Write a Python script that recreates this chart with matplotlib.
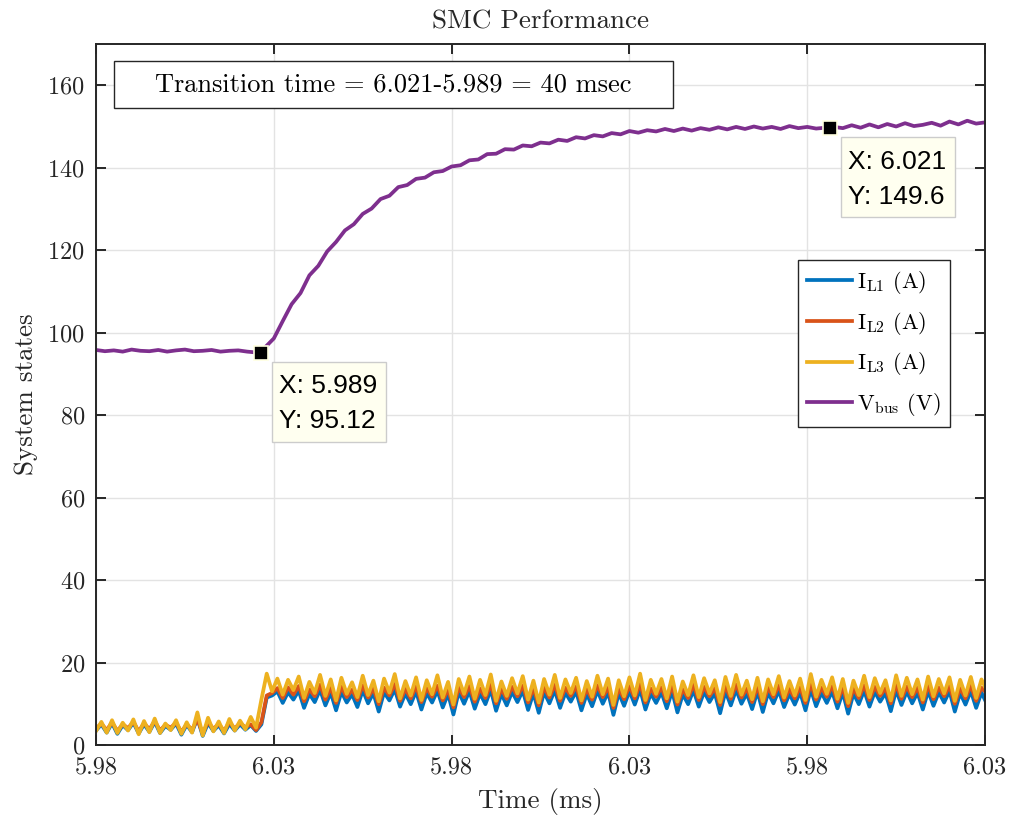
import numpy as np
import matplotlib
matplotlib.use("Agg")
import matplotlib.pyplot as plt
from matplotlib.patches import Rectangle
from matplotlib.transforms import ScaledTranslation

plt.rcParams['font.family'] = ['cmr10']
plt.rcParams['mathtext.fontset'] = 'cm'
plt.rcParams['axes.formatter.use_mathtext'] = True
plt.rcParams['axes.unicode_minus'] = False

# ---- data -------------------------------------------------------------
T0 = 5.9797          # first sample (ms)
DT_I = 0.0003        # current sampling step (ms)
DT_V = 0.0005        # bus-voltage sampling step (ms)

x_ticks_labels = ['5.98', '6.03', '5.98', '6.03', '5.98', '6.03']
y_ticks = [0, 20, 40, 60, 80, 100, 120, 140, 160]

i_l1 = [3.5, 5.0, 3.0, 5.3, 2.7, 4.8, 3.6, 5.4, 2.8, 5.0,
        3.2, 5.6, 2.9, 4.6, 3.7, 5.2, 2.5, 4.9, 3.1, 6.5,
        2.2, 5.3, 3.4, 4.8, 2.8, 5.1, 3.5, 5.0, 3.7, 4.8,
        3.4, 5.0, 11.5,
        12.0, 13.0, 10.2, 12.8, 11.0, 13.2, 9.0, 12.4, 10.4, 13.4,
        9.6, 12.7, 8.4, 12.9, 10.3, 12.3, 9.2, 13.3, 10.1, 12.6,
        8.1, 12.8, 10.8, 13.5, 9.3, 12.5, 9.9, 13.0, 8.6, 12.6,
        10.3, 13.2, 9.1, 12.4, 7.4, 12.9, 10.0, 13.1, 8.8, 12.5,
        9.9, 13.4, 8.3, 12.4, 9.6, 12.9, 10.4, 13.2, 8.5, 12.6,
        7.8, 12.8, 10.1, 13.3, 9.0, 12.7, 10.5, 13.0, 8.4, 12.4,
        9.4, 13.2, 10.0, 12.8, 7.3, 12.6, 9.5, 13.1, 9.8, 13.5,
        8.6, 12.5, 10.2, 12.8, 8.9, 13.1, 7.9, 12.3, 9.9, 13.3,
        9.3, 12.9, 10.4, 12.6, 7.7, 13.0, 9.6, 13.4, 10.0, 12.5,
        8.7, 13.0, 8.0, 12.7, 10.1, 13.2, 9.2, 12.4, 9.8, 12.8,
        8.4, 13.5, 9.4, 12.7, 10.2, 13.0, 8.9, 12.8, 7.6, 12.5,
        9.9, 13.2, 9.3, 12.9, 10.5, 12.6, 8.2, 13.3, 9.7, 13.0,
        10.1, 12.7, 8.6, 13.1, 9.5, 12.8, 10.3, 13.1, 8.1, 12.6,
        9.8, 13.1, 9.0, 12.7, 10.0]

i_l2 = [4.0, 5.2, 3.6, 5.5, 3.4, 5.0, 4.1, 5.6, 3.3, 5.3,
        3.8, 5.8, 3.5, 4.9, 4.2, 5.4, 3.2, 5.0, 3.7, 6.2,
        2.8, 5.6, 3.9, 5.1, 3.4, 5.5, 4.0, 5.3, 4.3, 5.0,
        3.6, 5.5, 12.0,
        12.6, 13.8, 11.4, 14.0, 12.2, 14.3, 10.6, 13.5, 11.8, 14.6,
        11.0, 13.9, 10.2, 14.1, 11.6, 13.4, 10.9, 14.5, 11.5, 13.7,
        9.9, 13.9, 12.0, 14.8, 10.7, 13.6, 11.3, 14.2, 10.4, 13.8,
        11.7, 14.4, 10.8, 13.5, 9.1, 14.0, 11.6, 14.3, 10.5, 13.7,
        11.4, 14.7, 10.1, 13.6, 11.2, 14.1, 11.8, 14.4, 10.3, 13.8,
        9.6, 14.0, 11.5, 14.6, 10.7, 13.9, 11.9, 14.2, 10.2, 13.6,
        11.0, 14.5, 11.6, 14.0, 9.0, 13.8, 11.1, 14.3, 11.3, 14.8,
        10.3, 13.7, 11.7, 14.0, 10.6, 14.4, 9.8, 13.5, 11.4, 14.6,
        10.9, 14.1, 11.8, 13.8, 9.7, 14.3, 11.2, 14.7, 11.5, 13.7,
        10.4, 14.2, 9.9, 13.9, 11.6, 14.5, 10.8, 13.6, 11.3, 14.0,
        10.2, 14.8, 11.0, 13.9, 11.7, 14.3, 10.5, 14.0, 9.4, 13.7,
        11.4, 14.5, 10.9, 14.1, 11.9, 13.8, 10.1, 14.6, 11.2, 14.2,
        11.6, 13.9, 10.3, 14.4, 11.1, 14.0, 11.8, 14.3, 10.0, 13.8,
        11.3, 14.4, 10.7, 13.9, 12.5]

i_l3 = [3.4, 5.6, 3.0, 6.0, 2.9, 5.4, 3.5, 6.2, 2.6, 5.8,
        3.1, 6.4, 2.9, 5.2, 3.6, 6.0, 2.7, 5.5, 3.0, 7.9,
        2.3, 6.6, 3.3, 5.7, 2.9, 6.3, 3.5, 5.9, 3.8, 6.8,
        4.2, 11.0, 17.3,
        13.0, 16.1, 12.2, 15.8, 13.3, 16.6, 11.4, 15.3, 12.6, 17.0,
        11.9, 15.9, 10.8, 16.3, 12.4, 15.2, 11.6, 16.8, 12.1, 15.6,
        10.6, 16.1, 12.7, 17.2, 11.3, 15.5, 12.0, 16.4, 10.9, 15.7,
        12.3, 16.9, 11.5, 15.3, 9.8, 16.0, 12.4, 16.6, 11.2, 15.8,
        12.1, 17.1, 10.7, 15.4, 11.9, 16.2, 12.5, 16.7, 11.0, 15.6,
        10.3, 16.0, 12.2, 17.0, 11.4, 15.9, 12.6, 16.3, 10.8, 15.5,
        11.7, 16.8, 12.3, 16.1, 9.7, 15.7, 11.8, 16.4, 12.0, 17.3,
        10.9, 15.8, 12.4, 16.0, 11.3, 16.6, 10.5, 15.4, 12.1, 16.9,
        11.6, 16.2, 12.5, 15.7, 10.4, 16.5, 11.9, 17.0, 12.2, 15.6,
        11.1, 16.3, 10.6, 15.9, 12.3, 16.7, 11.5, 15.5, 12.0, 16.1,
        10.9, 17.2, 11.7, 15.8, 12.4, 16.4, 11.2, 16.0, 10.2, 15.6,
        12.1, 16.8, 11.6, 16.2, 12.6, 15.7, 10.8, 16.9, 11.9, 16.3,
        12.3, 15.9, 11.0, 16.6, 11.8, 16.0, 12.5, 16.4, 10.7, 15.8,
        12.0, 16.5, 11.4, 15.9, 13.2]

v_bus = [95.8, 95.5, 95.7, 95.4, 95.9, 95.6, 95.5, 95.8, 95.4, 95.7,
         95.9, 95.5, 95.6, 95.8, 95.4, 95.6, 95.7, 95.4, 95.2, 96.4,
         98.6, 102.8, 106.9, 109.6, 113.9, 116.2, 119.7, 122.0, 124.8, 126.3,
         128.8, 130.1, 132.4, 133.2, 135.3, 135.8, 137.3, 137.6, 138.9, 139.2,
         140.3, 140.6, 141.8, 142.0, 143.3, 143.4, 144.5, 144.4, 145.4, 145.2,
         146.1, 145.9, 146.8, 146.5, 147.4, 147.1, 147.9, 147.6, 148.4, 148.1,
         148.9, 148.5, 149.1, 148.8, 149.4, 148.9, 149.5, 149.0, 149.6, 149.2,
         149.8, 149.3, 149.9, 149.4, 150.0, 149.5, 149.9, 149.4, 150.1, 149.6,
         149.9, 149.5, 149.7, 149.9, 149.6, 150.3, 149.7, 150.5, 149.8, 150.6,
         150.0, 150.8, 150.1, 150.4, 150.9, 150.2, 151.2, 150.5, 151.4, 150.7,
         151.0]

tip_start = (5.989, 95.12)
tip_end = (6.021, 149.6)

# ---- figure -----------------------------------------------------------
C_BLUE, C_RED, C_YEL, C_PUR = '#0072BD', '#D95319', '#EDB120', '#7E2F8E'
AX_COL = '#262626'

fig = plt.figure(figsize=(10.13, 8.23), dpi=100)
ax = fig.add_axes([0.0948, 0.0948, 0.8776, 0.8517])

t_i = T0 + DT_I * np.arange(len(i_l1))
t_v = T0 + DT_V * np.arange(len(v_bus))

lw = 2.7
ax.plot(t_i, i_l1, color=C_BLUE, lw=lw, label=r'$\mathrm{I_{L1}}$ (A)')
ax.plot(t_i, i_l2, color=C_RED, lw=lw, label=r'$\mathrm{I_{L2}}$ (A)')
ax.plot(t_i, i_l3, color=C_YEL, lw=lw, label=r'$\mathrm{I_{L3}}$ (A)')
ax.plot(t_v, v_bus, color=C_PUR, lw=lw, label=r'$\mathrm{V_{bus}}$ (V)')

ax.set_xlim(T0, T0 + 0.05)
ax.set_ylim(0, 170)
ax.set_xticks([T0 + 0.01 * k for k in range(6)])
ax.set_xticklabels(x_ticks_labels)
ax.set_yticks(y_ticks)

ax.grid(True, color='#e3e3e3', lw=1.0)
ax.set_axisbelow(True)
for s in ax.spines.values():
    s.set_color(AX_COL)
    s.set_linewidth(1.4)
ax.tick_params(direction='in', length=7, width=1.4, colors=AX_COL,
               labelcolor='#262626', labelsize=17.5, top=True, right=True, pad=8)

ax.set_xlabel('Time (ms)', fontsize=19.5, color='#262626', labelpad=7)
ax.set_ylabel('System states', fontsize=19.5, color='#262626', labelpad=7)
ax.set_title('SMC Performance', fontsize=19.5, color='#262626', pad=11)

leg = ax.legend(loc='upper left', bbox_to_anchor=(0.79, 0.692), borderaxespad=0,
                fontsize=16, frameon=True, fancybox=False, framealpha=1,
                edgecolor=AX_COL, handlelength=2.0, handletextpad=0.25,
                labelspacing=0.62, borderpad=0.4)
leg.get_frame().set_linewidth(1.0)

# annotation box with the transition time
ax.add_patch(Rectangle((0.0202, 0.9087), 0.6288, 0.067, transform=ax.transAxes,
                       fc='white', ec=AX_COL, lw=1.0, zorder=5))
ax.text(0.3346, 0.9422, 'Transition time = 6.021-5.989 = 40 msec',
        transform=ax.transAxes, ha='center', va='center', fontsize=19, zorder=6)

# data tips: marker, box and two text lines laid out in inches from the point
for (x, y) in (tip_start, tip_end):
    ax.plot([x], [y], 's', ms=10, mfc='k', mec='#FFFFE0', mew=1.2, zorder=7)
    tr = fig.dpi_scale_trans + ScaledTranslation(x, y, ax.transData)
    ax.add_patch(Rectangle((0.11, -0.89), 1.14, 0.80, transform=tr,
                           fc='#FFFFF0', ec='#CCCCCC', lw=1, zorder=8,
                           clip_on=False))
    ax.text(0.18, -0.335, f'X: {x:.3f}', transform=tr, ha='left', va='center',
            fontsize=19, family='Liberation Sans', zorder=9)
    ax.text(0.18, -0.685, f'Y: {y:.4g}', transform=tr, ha='left', va='center',
            fontsize=19, family='Liberation Sans', zorder=9)

fig.savefig('out.png', dpi=100)
